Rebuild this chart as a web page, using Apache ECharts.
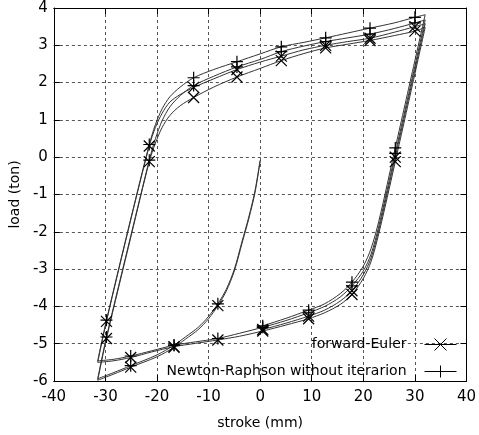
<!DOCTYPE html>
<html>
<head>
<meta charset="utf-8">
<script src="https://cdn.jsdelivr.net/npm/echarts@6/dist/echarts.min.js"></script>
<style>html,body{margin:0;padding:0;background:#fff}#c{width:479px;height:435px}</style>
</head>
<body>
<div id="c"></div>
<script>
// third element = 1 marks a point drawn with the series' point symbol
const feVirgin = [[0,-0.1],[-1,-0.95],[-2.2,-1.65],[-3.5,-2.3],[-5,-3.05],[-6.6,-3.6],[-8.2,-3.98,1],[-10,-4.33],[-12,-4.62],[-14.5,-4.88],[-16.7,-5.1,1],[-20,-5.35],[-25.1,-5.63,1],[-28.5,-5.82],[-31.5,-5.98]];
const nrVirgin = [[0,-0.08],[-1,-0.9],[-2.2,-1.6],[-3.5,-2.25],[-5,-3.0],[-6.6,-3.55],[-8.2,-3.93,1],[-10,-4.27],[-12,-4.56],[-14.5,-4.82],[-16.7,-5.04,1],[-20,-5.3],[-25.1,-5.59,1],[-28.5,-5.78],[-31.5,-5.94]];
const feUp1 = [[-31.5,-5.98],[-29.8,-4.86,1],[-25,-2.1],[-21.5,-0.12,1],[-20.3,0.38],[-19,0.8],[-17.5,1.12],[-15.5,1.38],[-12.9,1.6,1],[-9,1.88],[-4.5,2.15,1],[0,2.38],[4.1,2.59,1],[8.5,2.78],[12.7,2.93,1],[17,3.03],[21.3,3.13,1],[26,3.26],[30,3.38,1],[32,3.48]];
const nrUp1 = [[-31.5,-5.94],[-29.8,-4.82,1],[-25,-2.06],[-21.5,-0.08,1],[-20.3,0.5],[-19,0.98],[-17.5,1.35],[-15.5,1.65],[-12.9,1.92,1],[-9,2.17],[-4.5,2.42,1],[0,2.62],[4.1,2.83,1],[8.5,2.98],[12.7,3.1,1],[17,3.2],[21.3,3.3,1],[26,3.45],[30,3.6,1],[32,3.68]];
const feDown1 = [[32,3.48],[26.2,-0.12,1],[23,-2.05],[21.5,-2.8],[20,-3.25],[17.8,-3.68,1],[15.5,-3.95],[12.5,-4.17],[9.4,-4.33,1],[5,-4.5],[0.5,-4.66,1],[-4,-4.8],[-8.2,-4.9,1],[-12.5,-4.99],[-16.7,-5.08,1],[-21,-5.22],[-25.1,-5.37,1],[-28.5,-5.46],[-31.5,-5.5]];
const nrDown1 = [[32,3.68],[26.2,0.1,1],[23,-1.85],[21.5,-2.6],[20,-3.05],[17.8,-3.45,1],[15.5,-3.75],[12.5,-4.0],[9.4,-4.17,1],[5,-4.38],[0.5,-4.56,1],[-4,-4.72],[-8.2,-4.86,1],[-12.5,-4.95],[-16.7,-5.04,1],[-21,-5.19],[-25.1,-5.33,1],[-28.5,-5.42],[-31.5,-5.46]];
const feUp2 = [[-31.5,-5.5],[-29.8,-4.4,1],[-25,-1.63],[-21.5,0.3,1],[-20.3,0.8],[-19,1.18],[-17.5,1.48],[-15.5,1.68],[-12.9,1.87,1],[-9,2.1],[-4.5,2.35,1],[0,2.55],[4.1,2.71,1],[8.5,2.88],[12.7,3.0,1],[17,3.1],[21.3,3.19,1],[26,3.35],[30,3.5,1],[32,3.58]];
const nrUp2 = [[-31.5,-5.46],[-29.8,-4.37,1],[-25,-1.6],[-21.5,0.34,1],[-20.3,0.88],[-19,1.3],[-17.5,1.62],[-15.5,1.88],[-12.9,2.13,1],[-9,2.35],[-4.5,2.56,1],[0,2.77],[4.1,2.96,1],[8.5,3.08],[12.7,3.2,1],[17,3.33],[21.3,3.46,1],[26,3.6],[30,3.75,1],[32,3.82]];
const feDown2 = [[32,3.58],[26.2,0.0,1],[23,-1.95],[21.5,-2.7],[20,-3.15],[17.8,-3.58,1],[15.5,-3.86],[12.5,-4.1],[9.4,-4.26,1],[5,-4.45],[0.5,-4.62,1],[0,-4.63]];
const nrDown2 = [[32,3.82],[26.2,0.25,1],[23,-1.72],[21.5,-2.45],[20,-2.92],[17.8,-3.35,1],[15.5,-3.66],[12.5,-3.93],[9.4,-4.1,1],[5,-4.32],[0.5,-4.52,1],[0,-4.54]];

const feName = 'forward-Euler';
const nrName = 'Newton-Raphson without iterarion';
const fePaths = [feVirgin, feUp1, feDown1, feUp2, feDown2];
const nrPaths = [nrVirgin, nrUp1, nrDown1, nrUp2, nrDown2];

const crossSym = 'path://M0,0L10,10M10,0L0,10';
const plusSym = 'path://M5,0L5,10M0,5L10,5';

const series = [];
function addPaths(name, paths, sym, size) {
  paths.forEach(p => {
    series.push({
      name: name, type: 'line', smooth: 0.3,
      showSymbol: false, symbol: 'none',
      data: p.map(d => [d[0], d[1]]),
      lineStyle: {color: '#333', width: 1},
      itemStyle: {color: '#333'},
      emphasis: {disabled: true}, silent: true, z: 2
    });
  });
  const marks = [];
  paths.forEach(p => p.forEach(d => { if (d[2]) marks.push([d[0], d[1]]); }));
  series.push({
    name: name, type: 'scatter', symbol: sym, symbolSize: size,
    data: marks,
    itemStyle: {color: 'none', borderColor: '#000', borderWidth: 1.2, opacity: 1},
    emphasis: {disabled: true}, silent: true, z: 3
  });
}
addPaths(feName, fePaths, crossSym, 11);
addPaths(nrName, nrPaths, plusSym, 12);

const font = 'DejaVu Sans';
const chart = echarts.init(document.getElementById('c'), null, {renderer: 'canvas'});
chart.setOption({
  animation: false,
  backgroundColor: '#fff',
  grid: {left: 43, right: 8, top: 8, bottom: 51},
  xAxis: [{
    type: 'value', min: -40, max: 40, interval: 10, position: 'bottom',
    name: 'stroke (mm)', nameLocation: 'middle', nameGap: 35,
    nameTextStyle: {fontFamily: font, fontSize: 14, color: '#000'},
    axisLine: {show: true, onZero: false, lineStyle: {color: '#000', width: 1}},
    axisTick: {show: true, inside: true, length: 6, lineStyle: {color: '#000'}},
    axisLabel: {fontFamily: font, fontSize: 15, color: '#000', margin: 9},
    splitLine: {show: true, lineStyle: {type: [3, 3], color: '#555', width: 1}}
  }, {
    type: 'value', min: -40, max: 40, interval: 10, position: 'top',
    axisLine: {show: true, onZero: false, lineStyle: {color: '#000', width: 1}},
    axisTick: {show: true, inside: true, length: 6, lineStyle: {color: '#000'}},
    axisLabel: {show: false}, splitLine: {show: false}
  }],
  yAxis: [{
    type: 'value', min: -6, max: 4, interval: 1, position: 'left',
    name: 'load (ton)', nameLocation: 'middle', nameGap: 31,
    nameTextStyle: {fontFamily: font, fontSize: 14, color: '#000'},
    axisLine: {show: true, onZero: false, lineStyle: {color: '#000', width: 1}},
    axisTick: {show: true, inside: true, length: 6, lineStyle: {color: '#000'}},
    axisLabel: {fontFamily: font, fontSize: 15, color: '#000', margin: 6},
    splitLine: {show: true, lineStyle: {type: [3, 3], color: '#555', width: 1}}
  }, {
    type: 'value', min: -6, max: 4, interval: 1, position: 'right',
    axisLine: {show: true, onZero: false, lineStyle: {color: '#000', width: 1}},
    axisTick: {show: true, inside: true, length: 6, lineStyle: {color: '#000'}},
    axisLabel: {show: false}, splitLine: {show: false}
  }],
  legend: {
    orient: 'vertical', right: 15, top: 331, align: 'right',
    itemWidth: 32, itemHeight: 12, itemGap: 10,
    selectedMode: false,
    textStyle: {fontFamily: font, fontSize: 14, color: '#000', padding: [0, 13, 0, 0]},
    data: [
      {name: feName, icon: 'path://M0,6L32,6M10,0L22,12M22,0L10,12', itemStyle: {color: 'none', borderColor: '#000', borderWidth: 1}},
      {name: nrName, icon: 'path://M0,6L32,6M16,0L16,12M10,6L22,6', itemStyle: {color: 'none', borderColor: '#000', borderWidth: 1}}
    ]
  },
  series: series
});
</script>
</body>
</html>
